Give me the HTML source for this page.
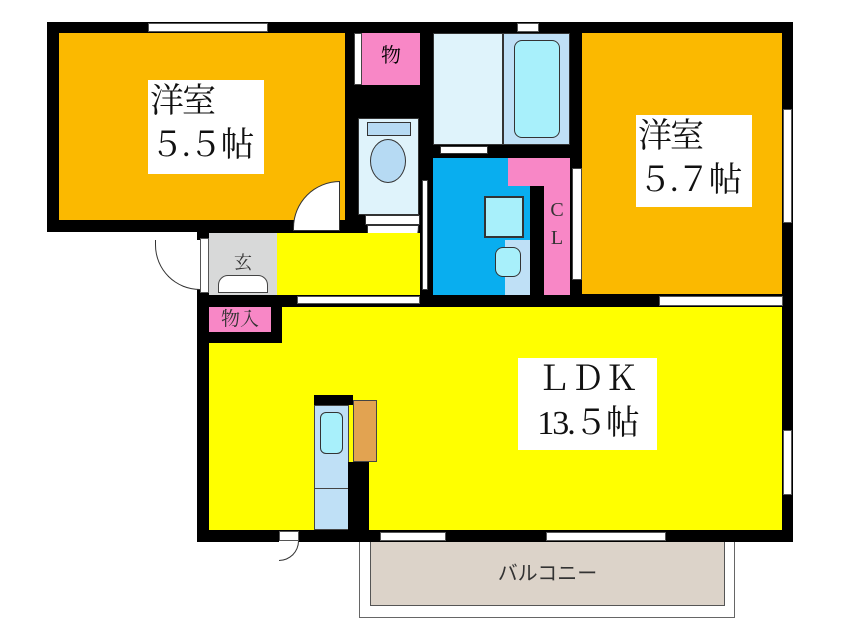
<!DOCTYPE html>
<html><head><meta charset="utf-8"><style>
body{margin:0;width:846px;height:634px;background:#fff;position:relative;overflow:hidden;font-family:"Liberation Serif","Noto Serif CJK JP",serif}
div{position:absolute;box-sizing:border-box}
.b{background:#000}
.lbl{background:#fff;color:#111;font-size:34px;line-height:44px;text-align:left;padding-left:2px;white-space:nowrap;letter-spacing:-2px}
.win{background:#fff;border:1px solid #555}
</style></head><body>
<div class="b" style="left:47px;top:22px;width:746px;height:210px"></div>
<div class="b" style="left:197px;top:22px;width:596px;height:520px"></div>
<div style="left:59px;top:33px;width:286px;height:187px;background:#fbb900"></div>
<div class="win" style="left:148px;top:23px;width:120px;height:9px"></div>
<div class="lbl" style="left:148px;top:80px;width:116px;height:94px">洋室<br>５.５帖</div>
<div style="left:293px;top:181px;width:47px;height:50px;background:#fff;border:1px solid #333;border-radius:47px 0 0 0"></div>
<div style="left:354px;top:33px;width:8px;height:52px;background:#fff;border:1px solid #444"></div>
<div style="left:362px;top:33px;width:58px;height:52px;background:#f887c6;font-size:20px;line-height:46px;text-align:center">物</div>
<div style="left:358px;top:118px;width:61px;height:97px;background:#dff3fb;border:1px solid #333"></div>
<div style="left:367px;top:122px;width:44px;height:14px;background:#b6daf3;border:1px solid #333"></div>
<div style="left:370px;top:139px;width:36px;height:44px;background:#b6daf3;border:1px solid #333;border-radius:50%"></div>
<div style="left:365px;top:215px;width:55px;height:10px;background:#fff;border:1px solid #333"></div>
<div style="left:367px;top:225px;width:52px;height:50px;background:#fff;border:1px solid #333;border-radius:0 0 52px 0"></div>
<div style="left:422px;top:180px;width:6px;height:110px;background:#fff;border:1px solid #444"></div>
<div style="left:433px;top:33px;width:70px;height:112px;background:#dff3fb;border:1px solid #333"></div>
<div style="left:503px;top:33px;width:67px;height:112px;background:#bfe0f6;border:1px solid #333"></div>
<div style="left:514px;top:40px;width:46px;height:98px;background:#a8f0fb;border:1.5px solid #333;border-radius:8px"></div>
<div style="left:440px;top:146px;width:48px;height:8px;background:#fff;border:1px solid #333"></div>
<div class="win" style="left:517px;top:23px;width:22px;height:9px"></div>
<div style="left:433px;top:158px;width:97px;height:137px;background:#09aeef"></div>
<div style="left:505px;top:240px;width:25px;height:55px;background:#bfe0f6"></div>
<div style="left:484px;top:196px;width:40px;height:42px;background:#a8f0fb;border:2px solid #333"></div>
<div style="left:495px;top:247px;width:26px;height:30px;background:#a8f0fb;border:1.5px solid #333;border-radius:8px"></div>
<div style="left:508px;top:158px;width:62px;height:28px;background:#f887c6"></div>
<div style="left:544px;top:158px;width:26px;height:137px;background:#f887c6;font-size:20px;line-height:28px;text-align:center;padding-top:38px;color:#333">C<br>L</div>
<div style="left:572px;top:168px;width:10px;height:112px;background:#fff;border:1px solid #444"></div>
<div style="left:582px;top:33px;width:200px;height:261px;background:#fbb900"></div>
<div class="lbl" style="left:636px;top:115px;width:116px;height:92px">洋室<br>５.７帖</div>
<div class="win" style="left:783px;top:109px;width:9px;height:114px"></div>
<div class="win" style="left:659px;top:296px;width:124px;height:10px"></div>
<div style="left:277px;top:233px;width:143px;height:62px;background:#ffff00"></div>
<div style="left:209px;top:233px;width:68px;height:62px;background:#d8d9d9;font-size:18px;text-align:center;line-height:60px;color:#333">玄</div>
<div style="left:218px;top:275px;width:50px;height:18px;background:#fff;border:1px solid #444;border-radius:10px 10px 0 0"></div>
<div style="left:155px;top:240px;width:45px;height:50px;background:#fff;border-left:1px solid #333;border-bottom:1px solid #333;border-radius:0 0 0 45px"></div>
<div class="win" style="left:200px;top:238px;width:9px;height:55px"></div>
<div class="win" style="left:297px;top:296px;width:123px;height:8px"></div>
<div style="left:209px;top:307px;width:62px;height:25px;background:#f887c6;font-size:19px;line-height:25px;text-align:center;color:#333">物入</div>
<div style="left:209px;top:343px;width:573px;height:187px;background:#ffff00"></div>
<div style="left:282px;top:307px;width:500px;height:40px;background:#ffff00"></div>
<div class="lbl" style="left:518px;top:358px;width:139px;height:92px;font-size:34px;text-align:center;padding:0;letter-spacing:0">ＬＤＫ<br><span style="font-size:34px;letter-spacing:-2px">13.５帖</span></div>
<div class="win" style="left:783px;top:430px;width:9px;height:65px"></div>
<div class="b" style="left:314px;top:395px;width:39px;height:10px"></div>
<div style="left:314px;top:405px;width:35px;height:125px;background:#bfe0f6;border:1px solid #444"></div>
<div style="left:314px;top:488px;width:35px;height:1px;background:#444"></div>
<div style="left:320px;top:412px;width:23px;height:42px;background:#a8f0fb;border:1.5px solid #333;border-radius:6px"></div>
<div style="left:353px;top:400px;width:24px;height:62px;background:#e2a351;border:1px solid #444"></div>
<div class="b" style="left:348px;top:462px;width:21px;height:70px"></div>
<div class="win" style="left:380px;top:532px;width:66px;height:9px"></div>
<div class="win" style="left:546px;top:532px;width:120px;height:9px"></div>
<div class="win" style="left:279px;top:531px;width:20px;height:10px"></div>
<div style="left:279px;top:541px;width:20px;height:20px;background:#fff;border:1px solid #333;border-left:none;border-top:none;border-radius:0 0 20px 0"></div>
<div style="left:359px;top:542px;width:376px;height:76px;border:1.5px solid #666;border-top:none;background:#fff"></div>
<div style="left:370px;top:542px;width:355px;height:64px;background:#dcd3c9;border:1.5px solid #555;border-top:none;font-family:'Liberation Sans','Noto Sans CJK JP',sans-serif;font-size:20px;line-height:64px;text-align:center;color:#333">バルコニー</div>
</body></html>
